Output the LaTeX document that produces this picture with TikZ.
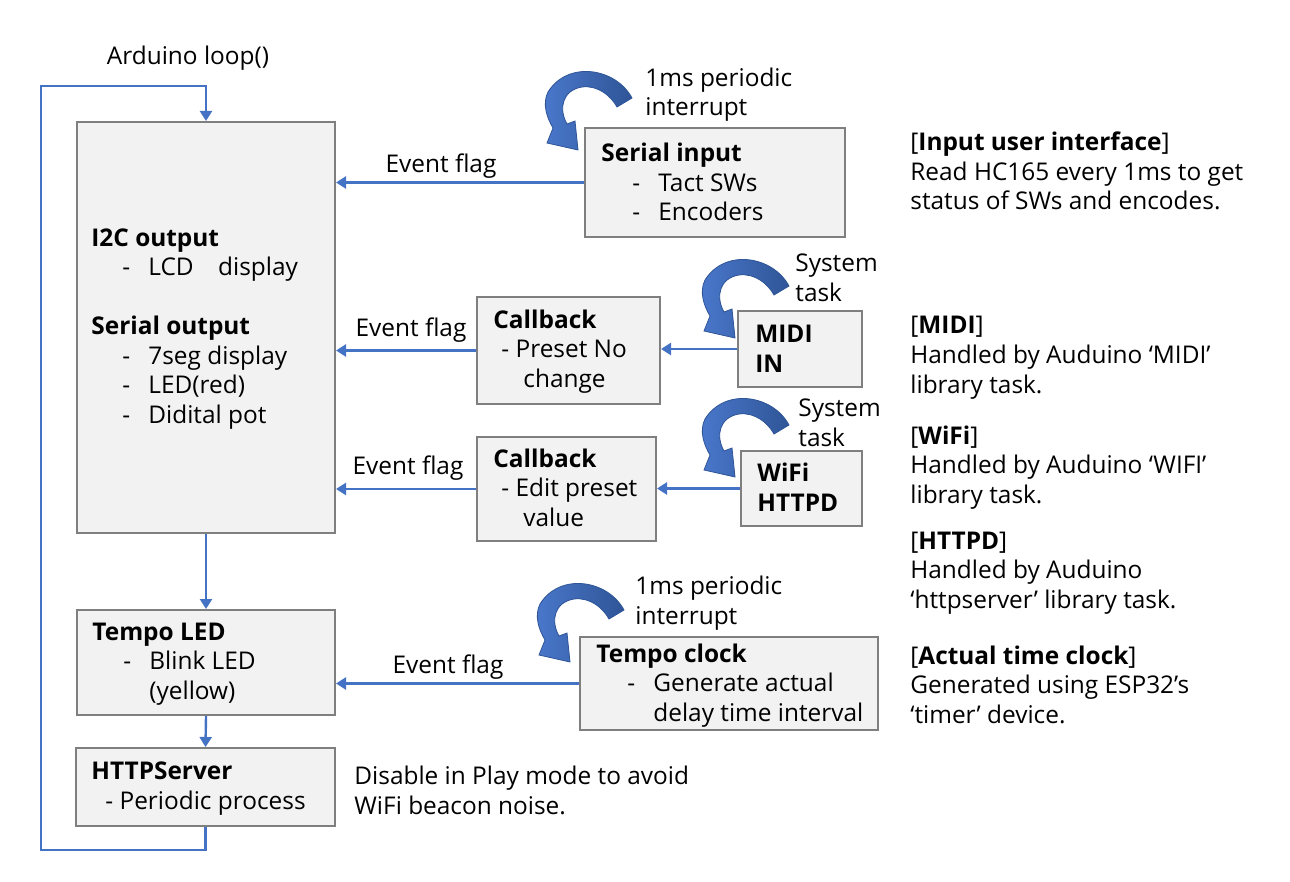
\documentclass[tikz,border=0pt]{standalone}
\usepackage{fontspec}
\setmainfont{Open Sans}
\usetikzlibrary{arrows.meta,positioning}

\definecolor{flowblue}{HTML}{4472C4}
\definecolor{boxgray}{HTML}{7F7F7F}
\definecolor{boxfill}{HTML}{F2F2F2}
\definecolor{arrowdark}{HTML}{2F5597}
\definecolor{arrowlight}{HTML}{4A78CC}

\newcommand{\dashitem}[1]{\hspace*{15.5pt}\makebox[13pt][l]{-}#1}
\newcommand{\contline}[1]{\hspace*{28.5pt}#1}

\tikzset{
  tickarrow/.pic={
    \shade[left color=arrowlight,right color=arrowdark,draw=arrowdark,line width=0.4pt]
      (54,-52) .. controls (38,-82) and (-10,-90) .. (-30,-58)
      .. controls (-36,-46) and (-31,-32) .. (-25,-22)
      -- (-31,-7) -- (0,0) -- (-3,-29) -- (-11,-26)
      .. controls (-20,-42) and (-15,-60) .. (4,-63)
      .. controls (20,-65) and (33,-54) .. (39,-43) -- cycle;
  }
}

\begin{document}
\begin{tikzpicture}[x=0.5pt,y=-0.5pt,
  box/.style={draw=boxgray,fill=boxfill,line width=1pt,inner sep=0pt},
  flow/.style={draw=flowblue,line width=1.2pt,-{Triangle[length=5pt,width=6pt]}},
  txt/.style={align=left,anchor=base west,inner sep=0pt,font=\fontsize{12.2}{14.75}\selectfont},
  lbl/.style={anchor=base,inner sep=0pt,font=\fontsize{12.2}{14.75}\selectfont}]

\useasboundingbox (0,0) rectangle (1290,882);

% boxes
\node[box,minimum width=129pt,minimum height=205.5pt] (main) at (206,327.5) {};
\node[box,minimum width=130pt,minimum height=54.5pt] (serin) at (715,182.5) {};
\node[box,minimum width=91.5pt,minimum height=53.5pt] (cb1) at (568.5,350.5) {};
\node[box,minimum width=62pt,minimum height=38pt] (midi) at (800,349) {};
\node[box,minimum width=89.5pt,minimum height=52pt] (cb2) at (566.5,489) {};
\node[box,minimum width=60.5pt,minimum height=37.5pt] (wifi) at (801.5,488.5) {};
\node[box,minimum width=129pt,minimum height=52.5pt] (tled) at (206,662.5) {};
\node[box,minimum width=149pt,minimum height=46.5pt] (tclk) at (729,683.5) {};
\node[box,minimum width=129.5pt,minimum height=39pt] (https) at (205.5,787) {};

% box texts (base = last line)
\node[txt] (maintxt) at (91,423) {\textbf{I2C output}\\\dashitem{LCD\quad display}\\[14.75pt]\textbf{Serial output}\\\dashitem{7seg display}\\\dashitem{LED(red)}\\\dashitem{Didital pot}};
\node[txt] (serintxt) at (601,221) {\textbf{Serial input}\\\dashitem{Tact SWs}\\\dashitem{Encoders}};
\node[txt] (cb1txt) at (493,387) {\textbf{Callback}\\\hspace*{4pt}- Preset No\\\hspace*{15pt}change};
\node[txt] (miditxt) at (755,372) {\textbf{MIDI}\\\textbf{IN}};
\node[txt] (cb2txt) at (493,526) {\textbf{Callback}\\\hspace*{4pt}- Edit preset\\\hspace*{15pt}value};
\node[txt] (wifitxt) at (757,511) {\textbf{WiFi}\\\textbf{HTTPD}};
\node[txt] (tledtxt) at (92,699) {\textbf{Tempo LED}\\\dashitem{Blink LED}\\\contline{(yellow)}};
\node[txt] (tclktxt) at (596,721) {\textbf{Tempo clock}\\\dashitem{Generate actual}\\\contline{delay time interval}};
\node[txt] (httpstxt) at (91,809) {\textbf{HTTPServer}\\\hspace*{7pt}- Periodic process};

% curved arrows and their notes
\pic (irq1) at (578,150) {tickarrow};
\pic (sys1) at (735,338) {tickarrow};
\pic (sys2) at (735,477) {tickarrow};
\pic (irq2) at (570,662) {tickarrow};
\node[txt] (irq1txt) at (645,116) {1ms periodic\\interrupt};
\node[txt] (sys1txt) at (795,301) {System\\task};
\node[txt] (sys2txt) at (798,446) {System\\task};
\node[txt] (irq2txt) at (635,624) {1ms periodic\\interrupt};

% descriptions
\node[lbl] (looptxt) at (188,65) {Arduino loop()};
\node[txt] (desc1) at (910,210) {[\textbf{Input user interface}]\\Read HC165 every 1ms to get\\status of SWs and encodes.};
\node[txt] (desc2) at (910,393) {[\textbf{MIDI}]\\Handled by Auduino ‘MIDI’\\library task.};
\node[txt] (desc3) at (910,503) {[\textbf{WiFi}]\\Handled by Auduino ‘WIFI’\\library task.};
\node[txt] (desc4) at (910,608) {[\textbf{HTTPD}]\\Handled by Auduino\\‘httpserver’ library task.};
\node[txt] (desc5) at (910,723) {[\textbf{Actual time clock}]\\Generated using ESP32’s\\‘timer’ device.};
\node[txt] (note) at (354,814) {Disable in Play mode to avoid\\WiFi beacon noise.};

% event flags
\draw[flow] (serin.west) -- (serin.west -| main.east);
\node[lbl] (ef1) at (441,173) {Event flag};
\draw[flow] (cb1.west) -- (cb1.west -| main.east);
\node[lbl] (ef2) at (411,336) {Event flag};
\draw[flow] (midi.west) -- (midi.west -| cb1.east);
\draw[flow] (cb2.west) -- (cb2.west -| main.east);
\node[lbl] (ef3) at (408,474) {Event flag};
\draw[flow] (wifi.west) -- (wifi.west -| cb2.east);
\draw[flow] (tclk.west) -- (tclk.west -| tled.east);
\node[lbl] (ef4) at (448,673) {Event flag};

% main loop
\draw[flow] (main.south) -- (tled.north);
\draw[flow] (tled.south) -- (https.north);
\coordinate (loopbl) at (41,850);
\coordinate (looptl) at (41,86);
\draw[flow] (https.south) |- (loopbl) -- (looptl) -| (main.north);
\end{tikzpicture}
\end{document}
